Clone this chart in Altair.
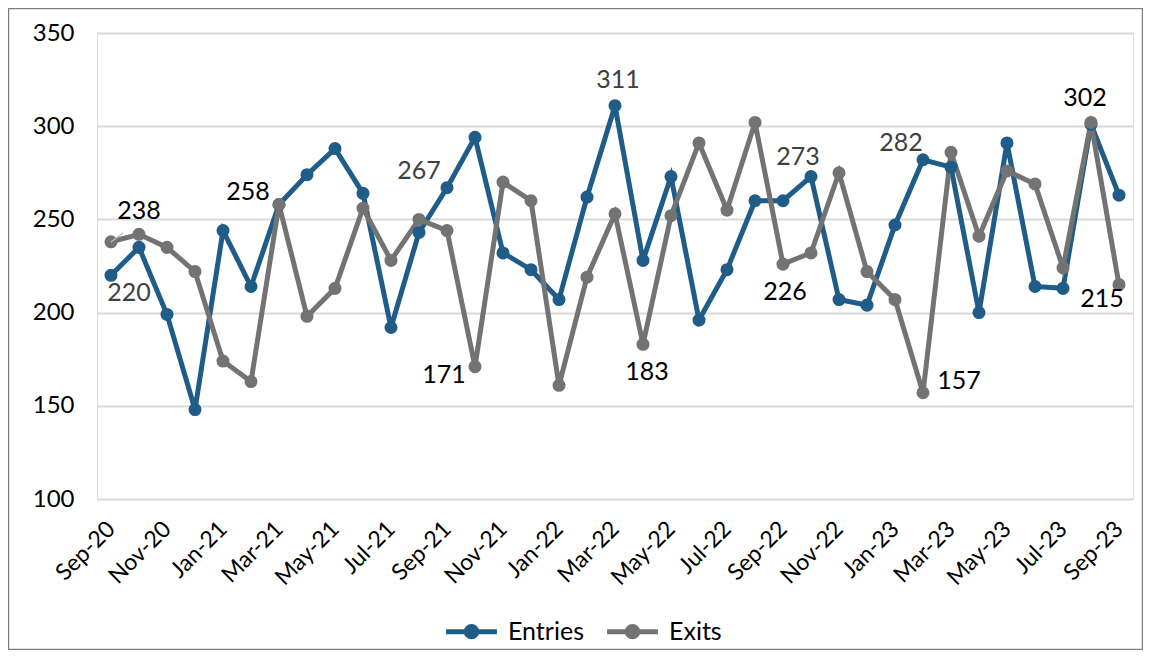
import altair as alt
import pandas as pd

months = ["Sep-20","Oct-20","Nov-20","Dec-20","Jan-21","Feb-21","Mar-21","Apr-21","May-21","Jun-21",
          "Jul-21","Aug-21","Sep-21","Oct-21","Nov-21","Dec-21","Jan-22","Feb-22","Mar-22","Apr-22",
          "May-22","Jun-22","Jul-22","Aug-22","Sep-22","Oct-22","Nov-22","Dec-22","Jan-23","Feb-23",
          "Mar-23","Apr-23","May-23","Jun-23","Jul-23","Aug-23","Sep-23"]
entries = [220,235,199,148,244,214,258,274,288,264,192,243,267,294,232,223,207,262,311,228,
           273,196,223,260,260,273,207,204,247,282,278,200,291,214,213,301,263]
exits = [238,242,235,222,174,163,258,198,213,256,228,250,244,171,270,260,161,219,253,183,
         252,291,255,302,226,232,275,222,207,157,286,241,276,269,224,302,215]
series_names = ["Entries", "Exits"]

# labelled points (series, month)
label_series = ["Exits","Entries","Exits","Entries","Exits","Entries","Exits","Entries","Exits",
                "Entries","Exits","Exits","Exits"]
label_months = ["Sep-20","Sep-20","Mar-21","Sep-21","Oct-21","Mar-22","Apr-22","Oct-22","Sep-22",
                "Feb-23","Feb-23","Aug-23","Sep-23"]

rows = []
for i, m in enumerate(months):
    rows.append({"month": m, "series": "Entries", "value": entries[i]})
    rows.append({"month": m, "series": "Exits", "value": exits[i]})
df = pd.DataFrame(rows)

BLUE = "#1f5c87"
GRAY = "#737373"
W, H = 1036, 466
FONT = "Lato"

shown = months[::2]
label_expr = "indexof(" + str(shown).replace("'", '"') + ", datum.value) >= 0 ? datum.value : ''"

x = alt.X("month:N", sort=months, scale=alt.Scale(type="point", padding=0.5),
          axis=alt.Axis(title=None, labelAngle=-45, labelAlign="right", labelBaseline="middle",
                        labelFontSize=23, labelColor="#000", labelPadding=26, ticks=False,
                        domain=False, labelExpr=label_expr, labelFont=FONT, labelOverlap=False))
y = alt.Y("value:Q", scale=alt.Scale(domain=[100, 350], nice=False, zero=False),
          axis=alt.Axis(title=None, values=[100,150,200,250,300,350], labelFontSize=24,
                        labelColor="#000", labelPadding=23, ticks=False, domain=False,
                        gridColor="#d9d9d9", gridWidth=2, labelFont=FONT))
color = alt.Color("series:N", scale=alt.Scale(domain=series_names, range=[BLUE, GRAY]),
                  legend=alt.Legend(title=None, orient="none", legendX=362, legendY=586,
                                    direction="horizontal", labelFontSize=25, labelFont=FONT,
                                    labelColor="#000", symbolStrokeWidth=5, symbolSize=170,
                                    labelOffset=24, columnPadding=13,
                                    symbolType="M-3.9,0L3.9,0M-0.8,0A0.8,0.8 0 1,0 0.8,0A0.8,0.8 0 1,0 -0.8,0"))

base = alt.Chart(df)
lines = base.mark_line(strokeWidth=5).encode(x=x, y=y, color=color, detail="series:N")
pts = base.mark_circle(size=170, opacity=1).encode(x=x, y=y, color=alt.Color("series:N", scale=alt.Scale(domain=series_names, range=[BLUE, GRAY]), legend=None))

offsets = [(28,-31),(18,18),(-31,-12),(-28,-17),(-31,8),(3,-26),(4,28),(-13,-20),(2,28),
           (-22,-17),(36,-12),(-6,-24),(-17,14)]
texts = []
for s, m, (dx, dy) in zip(label_series, label_months, offsets):
    col = "#404040" if s == "Entries" else "#000000"
    t = base.transform_filter(
        (alt.datum.series == s) & (alt.datum.month == m)
    ).mark_text(dx=dx, dy=dy, fontSize=25, font=FONT, color=col, align="center", baseline="middle").encode(
        x=x, y=y, text="value:Q")
    texts.append(t)

leader = alt.Chart(pd.DataFrame({"a": [0]})).mark_rule(color="#bfbfbf", strokeWidth=1.5).encode(
    x=alt.value(14), x2=alt.value(26), y=alt.value(209), y2=alt.value(200))

frame = alt.Chart(pd.DataFrame({"a": [0]})).mark_rect(fill=None, stroke="#7f7f7f", strokeWidth=1.5).encode(
    x=alt.value(-88.5), x2=alt.value(W + 9.5), y=alt.value(-24.5), y2=alt.value(H + 150.5))

chart = alt.layer(frame, lines, pts, leader, *texts).properties(
    width=W, height=H, autosize=alt.AutoSizeParams(type="none"),
    padding={"left": 89, "top": 25, "right": 10, "bottom": 151}
).configure_view(stroke="#000", strokeWidth=2).configure(font=FONT)

chart.save("out.html", embed_options={"renderer": "svg", "actions": False})
